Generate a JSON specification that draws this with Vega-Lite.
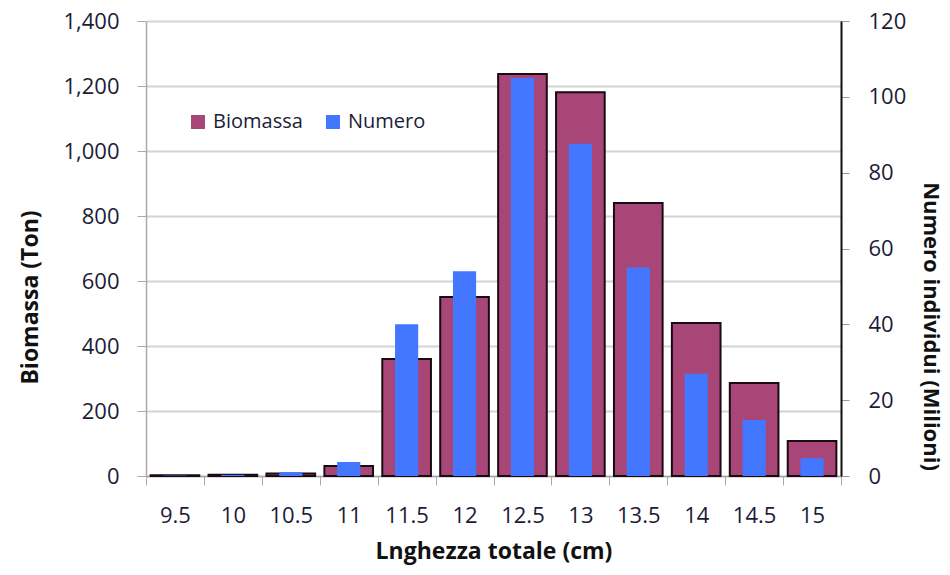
{
  "$schema": "https://vega.github.io/schema/vega-lite/v6.json",
  "autosize": {"type": "none"},
  "width": 695,
  "height": 455,
  "padding": {"left": 146, "top": 21, "right": 109, "bottom": 99},
  "background": "white",
  "config": {
    "view": {"stroke": null},
    "font": "Open Sans",
    "axis": {"labelFont": "Open Sans", "titleFont": "Open Sans", "labelColor": "#1c1c38", "titleColor": "#111", "labelFontSize": 22, "titleFontSize": 23, "titleFontWeight": "bold"}
  },
  "data": {
    "values": [
      {"L": "9.5", "Biomassa": 2, "Numero": 0.1},
      {"L": "10", "Biomassa": 4, "Numero": 0.3},
      {"L": "10.5", "Biomassa": 8, "Numero": 1},
      {"L": "11", "Biomassa": 31, "Numero": 3.7},
      {"L": "11.5", "Biomassa": 360, "Numero": 40},
      {"L": "12", "Biomassa": 551, "Numero": 54},
      {"L": "12.5", "Biomassa": 1237, "Numero": 105},
      {"L": "13", "Biomassa": 1181, "Numero": 87.6},
      {"L": "13.5", "Biomassa": 840, "Numero": 55},
      {"L": "14", "Biomassa": 471, "Numero": 27},
      {"L": "14.5", "Biomassa": 286, "Numero": 14.8},
      {"L": "15", "Biomassa": 108, "Numero": 4.7}
    ]
  },
  "encoding": {
    "x": {
      "field": "L", "type": "ordinal", "sort": null,
      "scale": {"paddingInner": 0, "paddingOuter": 0},
      "axis": {"title": "Lnghezza totale (cm)", "labelAngle": 0, "domainColor": "#aaaaaa", "domainWidth": 1.5, "tickColor": "#aaaaaa", "tickBand": "extent", "tickSize": 9, "labelPadding": 20, "titlePadding": 14}
    }
  },
  "layer": [
    {
      "mark": {"type": "bar", "width": {"band": 0.84}, "stroke": "#1a0a12", "strokeWidth": 2},
      "encoding": {
        "y": {
          "field": "Biomassa", "type": "quantitative",
          "scale": {"domain": [0, 1400]},
          "axis": {"title": "Biomassa (Ton)", "titleY": 276, "values": [0, 200, 400, 600, 800, 1000, 1200, 1400], "format": ",d", "grid": true, "gridColor": "#d4d4d4", "gridWidth": 2, "domainColor": "#aaaaaa", "domainWidth": 1.5, "tickColor": "#aaaaaa", "tickSize": 9, "labelPadding": 18, "titlePadding": 20}
        },
        "color": {"datum": "Biomassa", "type": "nominal",
          "scale": {"domain": ["Biomassa", "Numero"], "range": ["#a84677", "#4477ff"]},
          "legend": {"title": null, "orient": "none", "legendX": 42, "legendY": 91, "direction": "horizontal", "symbolType": "square", "symbolSize": 196, "symbolStrokeWidth": 0, "labelFontSize": 20, "labelFont": "Open Sans", "labelColor": "#1c1c38", "columnPadding": 20, "labelOffset": 5}
        }
      }
    },
    {
      "mark": {"type": "bar", "width": {"band": 0.4}},
      "encoding": {
        "y": {
          "field": "Numero", "type": "quantitative",
          "scale": {"domain": [0, 120]},
          "axis": {"title": "Numero individui (Milioni)", "titleY": 305, "titleFontSize": 22, "orient": "right", "values": [0, 20, 40, 60, 80, 100, 120], "grid": false, "domainColor": "#111111", "domainWidth": 2, "tickColor": "#999999", "tickSize": 8, "labelPadding": 19, "titlePadding": 13}
        },
        "color": {"datum": "Numero", "type": "nominal"}
      }
    }
  ],
  "resolve": {"scale": {"y": "independent"}}
}
